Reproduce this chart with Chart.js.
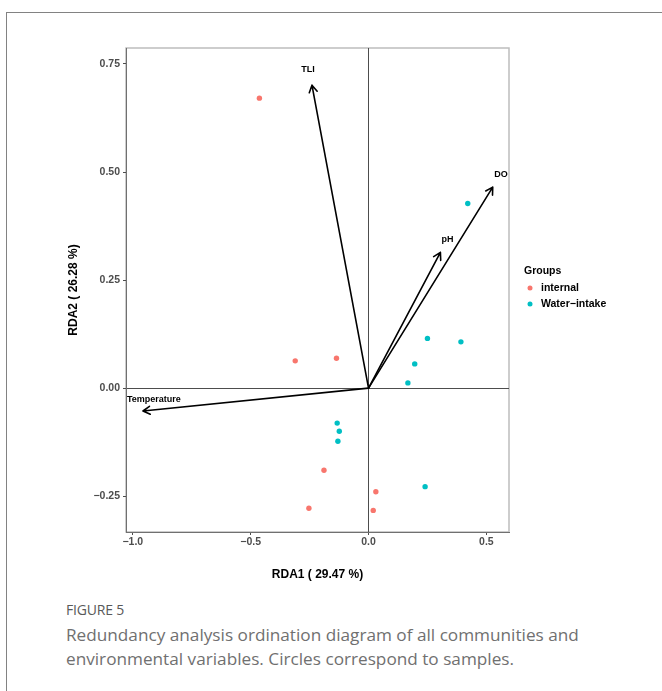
<!DOCTYPE html>
<html>
<head>
<meta charset="utf-8">
<script src="https://cdn.jsdelivr.net/npm/chart.js@4"></script>
<style>
  body { margin: 0; background: #fff; width: 662px; height: 691px; overflow: hidden; position: relative; }
  .frame { position: absolute; left: 6px; top: 12px; right: -10px; bottom: -10px;
           border-left: 1px solid #828282; border-top: 1px solid #828282; }
  #wrap { position: absolute; left: 0; top: 0; width: 662px; height: 600px; }
  .fig { position: absolute; left: 66px; top: 600px; font-family: "Open Sans", sans-serif;
         font-size: 14px; color: #595959; letter-spacing: -0.2px; }
  .cap { position: absolute; left: 66px; top: 623px; width: 590px; font-family: "Open Sans", sans-serif;
         font-size: 17.2px; line-height: 24px; color: #707070; }
</style>
</head>
<body>
<div class="frame"></div>
<div id="wrap"><canvas id="rdaChart" width="662" height="600"></canvas></div>
<div class="fig">FIGURE 5</div>
<div class="cap">Redundancy analysis ordination diagram of all communities and environmental variables. Circles correspond to samples.</div>
<script>
// sample scores
const internalX = [-0.463, -0.311, -0.136, -0.189, 0.031, -0.253, 0.020];
const internalY = [0.671, 0.063, 0.069, -0.190, -0.240, -0.278, -0.283];
const waterX = [0.421, 0.250, 0.392, 0.196, 0.167, -0.133, -0.124, -0.130, 0.240];
const waterY = [0.427, 0.115, 0.107, 0.056, 0.012, -0.081, -0.100, -0.123, -0.228];

// environmental arrows (tips) and where their labels sit
const envNames = ['TLI', 'pH', 'DO', 'Temperature'];
const envX = [-0.240, 0.305, 0.527, -0.957];
const envY = [0.701, 0.314, 0.465, -0.053];
const envLabelX = [-0.257, 0.335, 0.562, -0.911];
const envLabelY = [0.737, 0.344, 0.495, -0.026];

const xTicks = [-1.0, -0.5, 0.0, 0.5];
const xTickLabels = ['\u22121.0', '\u22120.5', '0.0', '0.5'];
const yTicks = [-0.25, 0.0, 0.25, 0.50, 0.75];
const yTickLabels = ['\u22120.25', '0.00', '0.25', '0.50', '0.75'];
const xLimits = [-1.029, 0.596];
const yLimits = [-0.333, 0.787];

const groupColors = ['#F8766D', '#00BFC4'];
const FONT = '"Liberation Sans", Arial, sans-serif';

function toPoints(xs, ys) {
    return xs.map((x, i) => ({ x: x, y: ys[i] }));
}

// light frame on top/right of the panel
const panelFrame = {
    id: 'panelFrame',
    beforeDraw(chart) {
        const { ctx, chartArea: a } = chart;
        ctx.save();
        ctx.strokeStyle = '#bdbdbd';
        ctx.lineWidth = 1.5;
        ctx.strokeRect(a.left, a.top, a.right - a.left, a.bottom - a.top);
        ctx.restore();
    }
};

// biplot arrows
const envArrows = {
    id: 'envArrows',
    afterDatasetsDraw(chart) {
        const { ctx, scales: { x, y } } = chart;
        const ox = x.getPixelForValue(0), oy = y.getPixelForValue(0);
        ctx.save();
        ctx.strokeStyle = '#000';
        ctx.lineWidth = 1.6;
        ctx.lineCap = 'round';
        ctx.lineJoin = 'round';
        envNames.forEach((name, i) => {
            const tx = x.getPixelForValue(envX[i]);
            const ty = y.getPixelForValue(envY[i]);
            const ang = Math.atan2(ty - oy, tx - ox);
            const head = 8, spread = Math.PI / 6;
            ctx.beginPath();
            ctx.moveTo(ox, oy);
            ctx.lineTo(tx, ty);
            ctx.moveTo(tx - head * Math.cos(ang - spread), ty - head * Math.sin(ang - spread));
            ctx.lineTo(tx, ty);
            ctx.lineTo(tx - head * Math.cos(ang + spread), ty - head * Math.sin(ang + spread));
            ctx.stroke();

            ctx.fillStyle = '#000';
            ctx.font = 'bold 9px ' + FONT;
            ctx.textAlign = 'center';
            ctx.textBaseline = 'middle';
            ctx.fillText(name, x.getPixelForValue(envLabelX[i]), y.getPixelForValue(envLabelY[i]));
        });
        ctx.restore();
    }
};

// ggplot-like legend to the right of the panel
const groupLegend = {
    id: 'groupLegend',
    afterDraw(chart) {
        const { ctx, chartArea: a } = chart;
        const left = a.right + 15;
        const mid = (a.top + a.bottom) / 2;
        ctx.save();
        ctx.fillStyle = '#000';
        ctx.textBaseline = 'middle';
        ctx.textAlign = 'left';
        ctx.font = 'bold 10.5px ' + FONT;
        ctx.fillText('Groups', left, mid - 19);
        chart.data.datasets.forEach((ds, i) => {
            const yy = mid - 2 + i * 16;
            ctx.fillStyle = ds.backgroundColor;
            ctx.beginPath();
            ctx.arc(left + 6, yy, 2.5, 0, Math.PI * 2);
            ctx.fill();
            ctx.fillStyle = '#000';
            ctx.fillText(ds.label, left + 17, yy);
        });
        ctx.restore();
    }
};

const tickFont = { family: FONT, size: 10.5, weight: 'bold' };
const titleFont = { family: FONT, size: 12, weight: 'bold' };

new Chart(document.getElementById('rdaChart').getContext('2d'), {
    type: 'scatter',
    data: {
        datasets: [{
            label: 'internal',
            data: toPoints(internalX, internalY),
            backgroundColor: groupColors[0],
            pointRadius: 2.7,
            borderWidth: 0
        }, {
            label: 'Water\u2212intake',
            data: toPoints(waterX, waterY),
            backgroundColor: groupColors[1],
            pointRadius: 2.7,
            borderWidth: 0
        }]
    },
    options: {
        responsive: false,
        animation: false,
        layout: { padding: { top: 48, right: 153, left: 0, bottom: 0 } },
        plugins: { legend: { display: false }, tooltip: { enabled: false } },
        scales: {
            x: {
                type: 'linear',
                min: xLimits[0],
                max: xLimits[1],
                afterBuildTicks: s => { s.ticks = xTicks.map(v => ({ value: v })); },
                afterFit: s => { s.height = 68; },
                ticks: {
                    callback: (v, i) => xTickLabels[i],
                    font: tickFont, color: '#4d4d4d', padding: 1, maxRotation: 0, autoSkip: false
                },
                grid: {
                    color: c => (c.tick && c.tick.value === 0 ? '#4d4d4d' : 'rgba(0,0,0,0)'),
                    lineWidth: 1, tickLength: 3, tickColor: '#4d4d4d'
                },
                border: { display: true, color: '#707070', width: 1 },
                title: { display: true, text: 'RDA1 ( 29.47 %)', font: titleFont, color: '#000',
                         padding: { top: 0, bottom: 18 } }
            },
            y: {
                type: 'linear',
                min: yLimits[0],
                max: yLimits[1],
                afterBuildTicks: s => { s.ticks = yTicks.map(v => ({ value: v })); },
                afterFit: s => { s.width = 126; },
                ticks: {
                    callback: (v, i) => yTickLabels[i],
                    font: tickFont, color: '#4d4d4d', padding: 3, autoSkip: false
                },
                grid: {
                    color: c => (c.tick && c.tick.value === 0 ? '#4d4d4d' : 'rgba(0,0,0,0)'),
                    lineWidth: 1, tickLength: 3, tickColor: '#4d4d4d'
                },
                border: { display: true, color: '#707070', width: 1 },
                title: { display: true, text: 'RDA2 ( 26.28 %)', font: titleFont, color: '#000',
                         padding: { top: 66, bottom: 0 } }
            }
        }
    },
    plugins: [panelFrame, envArrows, groupLegend]
});
</script>
</body>
</html>
